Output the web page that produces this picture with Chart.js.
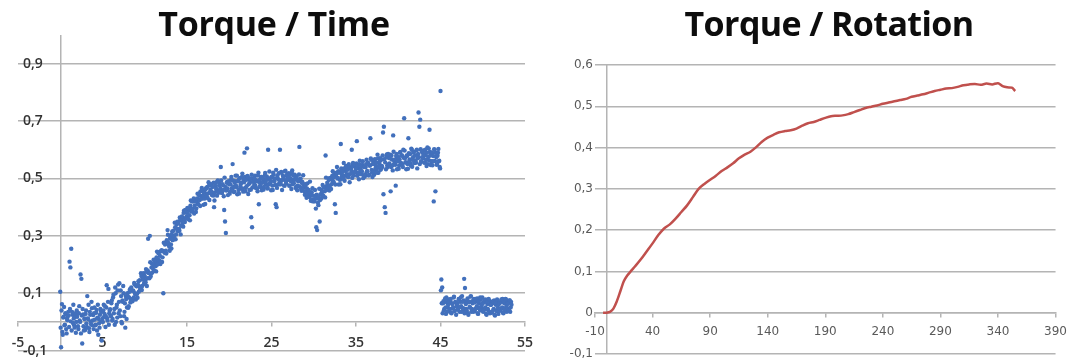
<!DOCTYPE html>
<html>
<head>
<meta charset="utf-8">
<script src="https://cdn.jsdelivr.net/npm/chart.js@4.4.1/dist/chart.umd.min.js"></script>
<style>
  html, body { margin:0; padding:0; background:#fff; }
  #wrap { position:relative; width:1075px; height:364px; overflow:hidden; }
  .panel { position:absolute; top:0; }
  .title { position:absolute; top:6px; font-family:'Open Sans', sans-serif; font-weight:700; font-size:34px; line-height:34px; color:#0d0d0d; white-space:nowrap; transform:translateX(-50%); letter-spacing:-0.3px; }
</style>
</head>
<body>
<div id="wrap">
  <canvas id="timeChart" class="panel" width="545" height="364" style="left:0"></canvas>
  <canvas id="rotChart" class="panel" width="530" height="364" style="left:545px"></canvas>
  <div class="title" style="left:274px">Torque / Time</div>
  <div class="title" style="left:829px; letter-spacing:-0.6px">Torque / Rotation</div>
</div>
<script>
// torque readings every 0.1 s; channel B is offset by half a step
const sampleStep = 0.1;
const torqueTime = [
  0.105,-0.088,0.062,-0.045,0.018,-0.012,0.03,-0.025,0.012,0.021,
  0.022,0.21,0.19,0.255,0.035,-0.004,0.012,-0.02,0.03,0.0,
  0.018,-0.015,0.03,0.005,0.165,0.15,-0.075,0.026,-0.03,0.012,
  0.028,-0.005,0.09,0.01,-0.022,0.035,0.002,0.07,-0.012,0.024,
  0.03,0.008,-0.01,0.042,0.015,-0.045,-0.005,0.025,0.038,-0.065,
  0.012,0.04,0.018,0.055,0.02,0.128,0.005,0.115,0.03,0.044,
  0.02,0.075,0.01,0.095,0.045,0.12,0.0,0.06,0.11,0.03,
  0.135,0.02,0.09,-0.005,0.07,0.1,0.035,-0.02,0.08,0.05,
  0.09,0.055,0.105,0.068,0.12,0.08,0.11,0.085,0.13,0.095,
  0.125,0.098,0.13,0.105,0.145,0.118,0.16,0.125,0.15,0.132,
  0.16,0.138,0.175,0.152,0.29,0.17,0.3,0.158,0.19,0.172,
  0.2,0.178,0.215,0.195,0.225,0.2,0.24,0.215,0.23,0.21,
  0.25,0.225,0.1,0.245,0.27,0.248,0.285,0.32,0.275,0.262,
  0.29,0.27,0.305,0.285,0.318,0.3,0.33,0.305,0.34,0.318,
  0.345,0.318,0.355,0.335,0.368,0.345,0.38,0.36,0.39,0.362,
  0.38,0.36,0.395,0.372,0.405,0.385,0.42,0.395,0.43,0.405,
  0.42,0.395,0.43,0.41,0.445,0.425,0.455,0.43,0.46,0.44,
  0.45,0.43,0.462,0.44,0.47,0.448,0.475,0.45,0.48,0.455,
  0.47,0.44,0.4,0.45,0.485,0.46,0.49,0.455,0.475,0.46,
  0.54,0.45,0.48,0.46,0.39,0.35,0.31,0.485,0.465,0.49,
  0.48,0.455,0.495,0.465,0.55,0.47,0.455,0.49,0.475,0.51,
  0.49,0.46,0.5,0.47,0.485,0.505,0.465,0.495,0.59,0.455,
  0.495,0.605,0.505,0.48,0.46,0.5,0.365,0.33,0.49,0.47,
  0.5,0.475,0.49,0.465,0.51,0.41,0.495,0.47,0.505,0.485,
  0.5,0.47,0.51,0.485,0.495,0.465,0.6,0.48,0.5,0.49,
  0.505,0.475,0.52,0.49,0.5,0.41,0.4,0.51,0.48,0.495,
  0.6,0.48,0.52,0.495,0.505,0.475,0.525,0.49,0.51,0.5,
  0.505,0.475,0.515,0.49,0.52,0.48,0.51,0.495,0.5,0.47,
  0.5,0.475,0.495,0.61,0.49,0.465,0.485,0.46,0.48,0.455,
  0.475,0.455,0.465,0.445,0.46,0.435,0.45,0.425,0.44,0.42,
  0.44,0.42,0.435,0.33,0.32,0.415,0.435,0.35,0.445,0.43,
  0.455,0.44,0.47,0.455,0.58,0.46,0.485,0.47,0.495,0.475,
  0.5,0.48,0.51,0.49,0.505,0.41,0.38,0.52,0.5,0.525,
  0.52,0.495,0.62,0.505,0.525,0.5,0.535,0.51,0.54,0.515,
  0.53,0.505,0.54,0.515,0.535,0.6,0.545,0.52,0.55,0.525,
  0.535,0.63,0.545,0.52,0.55,0.515,0.54,0.525,0.56,0.51,
  0.54,0.515,0.55,0.525,0.555,0.51,0.545,0.64,0.565,0.52,
  0.55,0.525,0.565,0.535,0.555,0.52,0.57,0.54,0.56,0.53,
  0.565,0.54,0.66,0.68,0.4,0.38,0.575,0.545,0.585,0.55,
  0.57,0.455,0.58,0.545,0.65,0.55,0.565,0.475,0.585,0.56,
  0.575,0.545,0.59,0.555,0.58,0.55,0.6,0.71,0.57,0.555,
  0.58,0.55,0.64,0.56,0.585,0.545,0.6,0.565,0.59,0.555,
  0.58,0.555,0.6,0.57,0.73,0.68,0.705,0.56,0.595,0.575,
  0.585,0.555,0.6,0.565,0.59,0.55,0.605,0.67,0.58,0.56,
  0.59,0.56,0.42,0.6,0.455,0.575,0.55,0.59,0.56,0.54,
  0.805,0.148,0.12,0.065,0.04,0.075,0.05,0.085,0.035,0.06,
  0.07,0.045,0.08,0.03,0.062,0.05,0.088,0.04,0.068,0.055,
  0.065,0.042,0.078,0.052,0.085,0.035,0.07,0.048,0.15,0.118,
  0.062,0.04,0.082,0.025,0.07,0.05,0.09,0.045,0.065,0.035,
  0.068,0.045,0.08,0.055,0.03,0.072,0.05,0.085,0.04,0.06,
  0.066,0.038,0.075,0.05,0.028,0.07,0.045,0.08,0.035,0.06,
  0.06,0.035,0.072,0.045,0.025,0.068,0.04,0.078,0.05,0.062,
  0.065,0.04,0.078,0.05,0.032,0.07,0.045,0.08,0.055,0.062,
  0.065,0.04,0.075,0.05,0.06
];
const torqueTimeB = [
  -0.02,0.04,-0.035,0.015,0.052,-0.01,0.028,-0.04,0.006,0.035,
  -0.018,0.045,0.002,-0.03,0.025,0.06,-0.012,0.018,-0.038,0.04,
  0.03,-0.025,0.055,0.0,-0.04,0.022,0.045,-0.015,0.01,-0.028,
  0.04,-0.018,0.012,0.06,-0.035,0.025,-0.008,0.048,0.005,-0.025,
  0.05,-0.012,0.032,-0.03,0.06,0.01,-0.02,0.045,0.002,0.035,
  0.0,0.06,0.028,-0.018,0.05,0.012,0.07,-0.01,0.04,0.022,
  0.065,0.005,0.085,0.03,-0.01,0.1,0.05,0.015,0.13,0.07,
  0.04,0.11,0.0,0.075,0.125,0.02,0.065,0.09,0.01,0.1,
  0.049,0.085,0.114,0.077,0.109,0.072,0.108,0.136,0.1,0.078,
  0.124,0.084,0.142,0.124,0.113,0.17,0.111,0.148,0.17,0.136,
  0.144,0.184,0.125,0.179,0.172,0.152,0.208,0.168,0.204,0.188,
  0.217,0.179,0.209,0.176,0.245,0.217,0.209,0.244,0.202,0.247,
  0.209,0.247,0.276,0.241,0.273,0.238,0.274,0.304,0.268,0.248,
  0.295,0.256,0.315,0.298,0.288,0.346,0.288,0.326,0.349,0.316,
  0.324,0.364,0.305,0.359,0.352,0.332,0.388,0.348,0.384,0.368,
  0.397,0.358,0.388,0.354,0.423,0.394,0.386,0.42,0.378,0.422,
  0.383,0.419,0.447,0.41,0.441,0.404,0.439,0.467,0.43,0.408,
  0.453,0.411,0.466,0.446,0.432,0.487,0.425,0.46,0.479,0.442,
  0.448,0.485,0.423,0.474,0.464,0.44,0.493,0.45,0.483,0.464,
  0.493,0.45,0.476,0.438,0.503,0.47,0.458,0.488,0.442,0.482,
  0.447,0.48,0.505,0.465,0.493,0.453,0.485,0.51,0.47,0.445,
  0.491,0.447,0.501,0.479,0.464,0.517,0.454,0.487,0.505,0.467,
  0.473,0.509,0.446,0.496,0.485,0.461,0.513,0.469,0.501,0.481,
  0.51,0.467,0.493,0.455,0.52,0.487,0.475,0.505,0.459,0.499,
  0.461,0.494,0.519,0.479,0.507,0.467,0.499,0.524,0.484,0.459,
  0.504,0.46,0.514,0.492,0.477,0.53,0.467,0.5,0.518,0.48,
  0.487,0.523,0.46,0.51,0.499,0.475,0.527,0.483,0.515,0.495,
  0.518,0.475,0.501,0.463,0.528,0.495,0.483,0.513,0.467,0.507,
  0.459,0.49,0.514,0.472,0.499,0.457,0.488,0.511,0.47,0.443,
  0.48,0.433,0.483,0.458,0.439,0.489,0.422,0.452,0.466,0.425,
  0.426,0.46,0.395,0.443,0.43,0.407,0.464,0.425,0.462,0.447,
  0.477,0.438,0.468,0.434,0.503,0.474,0.466,0.5,0.458,0.502,
  0.463,0.498,0.525,0.487,0.517,0.479,0.513,0.54,0.502,0.479,
  0.523,0.48,0.535,0.514,0.5,0.554,0.492,0.526,0.544,0.507,
  0.514,0.55,0.487,0.537,0.526,0.502,0.554,0.51,0.542,0.522,
  0.552,0.509,0.535,0.497,0.562,0.529,0.517,0.547,0.501,0.541,
  0.507,0.54,0.565,0.525,0.553,0.513,0.545,0.57,0.53,0.505,
  0.557,0.513,0.567,0.545,0.53,0.583,0.52,0.553,0.571,0.533,
  0.544,0.58,0.445,0.567,0.556,0.532,0.584,0.54,0.572,0.552,
  0.583,0.54,0.566,0.528,0.593,0.56,0.548,0.578,0.532,0.572,
  0.534,0.567,0.592,0.552,0.58,0.54,0.572,0.597,0.557,0.532,
  0.578,0.534,0.588,0.566,0.551,0.604,0.541,0.574,0.592,0.554,
  0.562,0.598,0.535,0.585,0.574,0.55,0.602,0.558,0.59,0.57,
  0.598,0.555,0.581,0.543,0.608,0.575,0.563,0.593,0.547,0.587,
  0.546,0.578,0.602,0.561,0.589,0.548,0.579,0.603,0.562,0.535,
  0.11,0.065,0.03,0.072,0.045,0.082,0.028,0.068,0.05,0.078,
  0.04,0.075,0.032,0.065,0.048,0.085,0.038,0.07,0.025,0.06,
  0.045,0.08,0.035,0.07,0.055,0.09,0.04,0.075,0.03,0.068,
  0.045,0.075,0.03,0.068,0.052,0.088,0.035,0.072,0.04,0.08,
  0.038,0.07,0.048,0.082,0.028,0.065,0.042,0.078,0.05,0.085,
  0.035,0.068,0.045,0.078,0.025,0.062,0.04,0.075,0.03,0.07,
  0.032,0.065,0.042,0.075,0.022,0.06,0.038,0.072,0.028,0.068,
  0.04,0.07,0.048,0.08,0.03,0.065,0.042,0.078,0.035,0.072,
  0.045,0.075,0.035,0.07
];
const timeTicks = [-5, 5, 15, 25, 35, 45, 55];
const torqueTicksTime = [-0.1, 0.1, 0.3, 0.5, 0.7, 0.9];

const rotationDeg = [-3,0,3,6,9,12,15,18,21,25,30,35,40,45,50,55,60,65,70,75,80,85,90,95,100,
  105,110,115,120,125,130,135,140,145,150,155,160,165,170,175,180,185,190,195,200,205,210,215,
  220,225,230,235,240,245,250,255,260,265,270,275,280,285,290,295,300,305,310,315,320,325,330,
  335,340,344,348,352,355];
const torqueRot = [0,0,0.002,0.01,0.028,0.052,0.076,0.09,0.1,0.113,0.13,0.149,0.168,0.188,0.204,
  0.214,0.228,0.244,0.26,0.28,0.3,0.312,0.322,0.332,0.343,0.352,0.362,0.374,0.383,0.39,0.401,
  0.414,0.424,0.431,0.437,0.44,0.442,0.446,0.453,0.459,0.462,0.467,0.472,0.476,0.477,0.478,0.481,
  0.486,0.491,0.496,0.499,0.502,0.506,0.509,0.512,0.515,0.518,0.523,0.526,0.529,0.533,0.537,0.54,
  0.543,0.544,0.547,0.551,0.553,0.554,0.552,0.555,0.553,0.556,0.549,0.546,0.545,0.537];
const rotationTicks = [-10, 40, 90, 140, 190, 240, 290, 340, 390];
const torqueTicksRot = [-0.1, 0, 0.1, 0.2, 0.3, 0.4, 0.5, 0.6];

const gridColor = '#b4b4b4';
const clear = 'rgba(0,0,0,0)';
const comma = v => v === 0 ? '0' : v.toFixed(1).replace('.', ',');

// extra tick at 0 only carries the vertical axis line
function withZero(list){
  return [...list, 0].sort((a, b) => a - b).map(v => ({value: v}));
}

function toPoints(values, offset){
  return values.map((v, i) => ({x: +(offset + i * sampleStep).toFixed(2), y: v}));
}

const dotStyle = {backgroundColor: '#4270bc', borderWidth: 0, pointRadius: 2.2};

const timeCtx = document.getElementById('timeChart');
new Chart(timeCtx, {
  type: 'scatter',
  data: {
    datasets: [
      {data: toPoints(torqueTime, 0), ...dotStyle},
      {data: toPoints(torqueTimeB, sampleStep / 2), ...dotStyle}
    ]
  },
  options: {
    responsive: false,
    animation: false,
    events: [],
    layout: {padding: {left: 18, right: 20, top: 35, bottom: 10}},
    plugins: {legend: {display: false}, tooltip: {enabled: false}},
    scales: {
      x: {
        type: 'linear', min: -5, max: 55,
        position: {y: 0},
        afterBuildTicks: s => { s.ticks = withZero(timeTicks); },
        afterFit: s => { s.height = 0; },
        grid: {
          color: c => c.tick && c.tick.value === 0 ? gridColor : clear,
          tickColor: c => c.tick && c.tick.value === 0 ? clear : gridColor,
          lineWidth: 1.5, tickLength: 4
        },
        border: {display: true, color: gridColor, width: 1.5},
        ticks: {
          autoSkip: false, maxRotation: 0, padding: 9,
          color: '#333', font: {family: 'Open Sans', size: 14, weight: '600'},
          callback: v => v === 0 ? '' : String(v)
        }
      },
      y: {
        type: 'linear', min: -0.1, max: 1.0,
        position: 'left',
        afterBuildTicks: s => { s.ticks = torqueTicksTime.map(v => ({value: v})); },
        afterFit: s => { s.width = 0; },
        grid: {color: gridColor, lineWidth: 1.5, drawTicks: false},
        border: {display: false},
        ticks: {
          mirror: true, padding: 5,
          color: '#333', font: {family: 'Open Sans', size: 14, weight: '600'},
          callback: v => comma(v)
        }
      }
    }
  }
});

const rotCtx = document.getElementById('rotChart');
new Chart(rotCtx, {
  type: 'line',
  data: {
    datasets: [{
      data: rotationDeg.map((x, i) => ({x: x, y: torqueRot[i]})),
      borderColor: '#c0504d',
      borderWidth: 2.5,
      pointRadius: 0,
      tension: 0.3
    }]
  },
  options: {
    responsive: false,
    animation: false,
    events: [],
    layout: {padding: {left: 20, right: 12, top: 65, bottom: 10}},
    plugins: {legend: {display: false}, tooltip: {enabled: false}},
    scales: {
      x: {
        type: 'linear', min: -10, max: 390,
        position: {y: 0},
        afterBuildTicks: s => { s.ticks = withZero(rotationTicks); },
        afterFit: s => { s.height = 0; },
        grid: {
          color: c => c.tick && c.tick.value === 0 ? gridColor : clear,
          tickColor: c => c.tick && c.tick.value === 0 ? clear : gridColor,
          lineWidth: 1.5, tickLength: 4
        },
        border: {display: true, color: gridColor, width: 1.5},
        ticks: {
          autoSkip: false, maxRotation: 0, padding: 8,
          color: '#5a5a5a', font: {family: 'DejaVu Sans', size: 12},
          callback: v => v === 0 ? '' : String(v)
        }
      },
      y: {
        type: 'linear', min: -0.1, max: 0.6,
        position: 'left',
        afterBuildTicks: s => { s.ticks = torqueTicksRot.map(v => ({value: v})); },
        afterFit: s => { s.width = 30; },
        grid: {color: gridColor, lineWidth: 1.5, drawTicks: false},
        border: {display: false},
        ticks: {
          padding: 2,
          color: '#5a5a5a', font: {family: 'DejaVu Sans', size: 12},
          callback: v => comma(v)
        }
      }
    }
  }
});
</script>
</body>
</html>
